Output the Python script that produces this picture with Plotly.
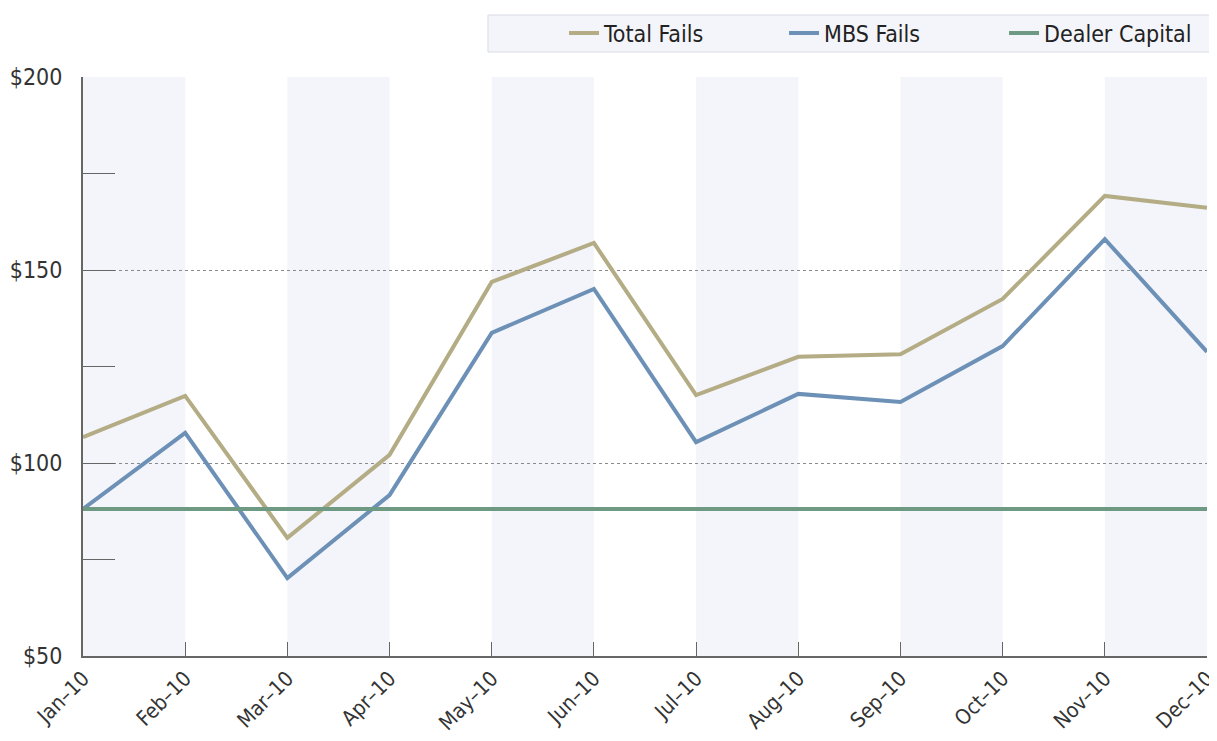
import plotly.graph_objects as go

months = ["Jan–10", "Feb–10", "Mar–10", "Apr–10", "May–10", "Jun–10",
          "Jul–10", "Aug–10", "Sep–10", "Oct–10", "Nov–10", "Dec–10"]
total_fails = [106.7, 117.4, 80.6, 102.1, 146.9, 157.0, 117.6, 127.5, 128.2, 142.5, 169.2, 166.1]
mbs_fails = [88.1, 107.8, 70.2, 91.7, 133.7, 145.1, 105.4, 117.9, 115.8, 130.3, 158.0, 128.8]
dealer_capital = [88.1] * 12
y_ticks = [50, 100, 150, 200]
y_labels = ["$50", "$100", "$150", "$200"]

FONT = "DejaVu Sans Condensed"
x_idx = list(range(len(months)))

fig = go.Figure()
fig.add_trace(go.Scatter(x=x_idx, y=total_fails, mode="lines", name="Total Fails",
                         line=dict(color="#b3ac84", width=4)))
fig.add_trace(go.Scatter(x=x_idx, y=mbs_fails, mode="lines", name="MBS Fails",
                         line=dict(color="#6d91b6", width=4)))
fig.add_trace(go.Scatter(x=x_idx, y=dealer_capital, mode="lines", name="Dealer Capital",
                         line=dict(color="#6e9a83", width=4)))

shapes = []
for i in range(0, len(months) - 1, 2):
    shapes.append(dict(type="rect", xref="x", yref="y", x0=x_idx[i], x1=x_idx[i + 1],
                       y0=50, y1=200, fillcolor="#f4f5fa", line=dict(width=0), layer="below"))
# legend background box
shapes.append(dict(type="rect", xref="paper", yref="paper", x0=0.3603, x1=1.0044,
                   y0=1.0432, y1=1.1071, fillcolor="#f4f5fa",
                   line=dict(color="#d8dbe3", width=1), layer="below"))

fig.update_layout(
    width=1217, height=741,
    margin=dict(l=75, r=18, t=69, b=93, autoexpand=False),
    paper_bgcolor="white", plot_bgcolor="white",
    font=dict(family=FONT, color="#333333"),
    shapes=shapes,
    showlegend=True,
    legend=dict(orientation="h", xref="container", yref="container",
                x=0.9992, xanchor="right", y=0.9663, yanchor="middle",
                bgcolor="rgba(0,0,0,0)", borderwidth=0,
                font=dict(size=23, family=FONT, color="#222222"),
                entrywidth=175, entrywidthmode="pixels"),
)
fig.update_xaxes(
    range=[0, 11], tickmode="array", tickvals=x_idx, ticktext=months,
    tickangle=-45, tickfont=dict(size=21, family=FONT, color="#333333"),
    showline=True, linecolor="#666666", linewidth=2,
    ticks="inside", ticklen=14, tickcolor="#666666", tickwidth=1,
    showgrid=False, zeroline=False, automargin=False,
    ticklabeloverflow="allow",
)
fig.update_yaxes(
    range=[50, 200], tickmode="array", tickvals=y_ticks, ticktext=y_labels,
    tickfont=dict(size=23, family=FONT, color="#333333"),
    showline=True, linecolor="#666666", linewidth=2,
    ticks="inside", ticklen=32, tickcolor="#666666", tickwidth=1,
    showgrid=True, gridcolor="#8a8a8a", griddash="dot", gridwidth=1,
    minor=dict(tickvals=[75, 125, 175], ticks="inside", ticklen=32,
               tickcolor="#666666", showgrid=False),
    zeroline=False, ticklabelstandoff=14, automargin=False,
)
fig.write_html("out.html")
